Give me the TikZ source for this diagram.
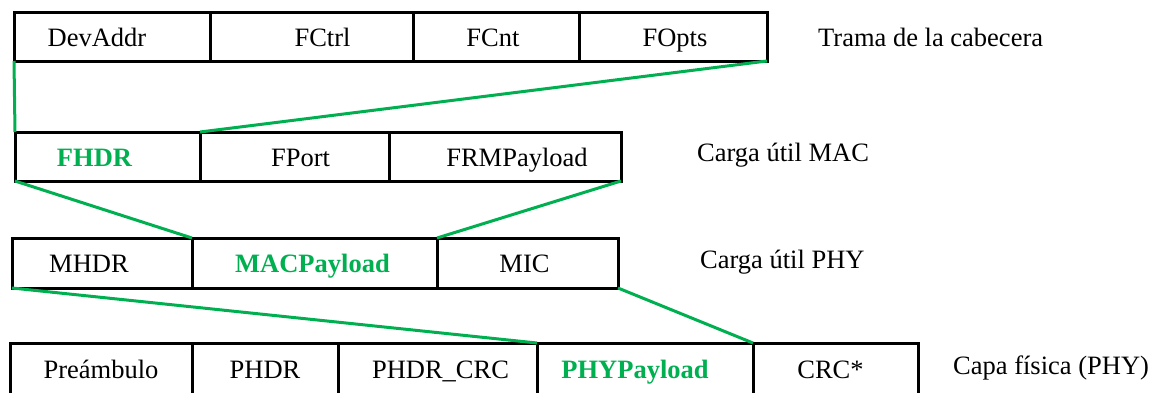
\documentclass[tikz,border=0pt]{standalone}
\usepackage{fontspec}
\setmainfont{Liberation Serif}
\definecolor{lgreen}{RGB}{0,176,80}
\tikzset{
  every node/.style={font=\fontsize{26.5}{30}\selectfont},
  cell/.style={draw=black, line width=3pt, rectangle, outer sep=0pt, inner sep=0pt},
  every label/.style={inner sep=0pt, text height=19pt, text depth=0pt},
  hl/.style={font=\fontsize{26.5}{30}\selectfont\bfseries, text=lgreen},
  link/.style={draw=lgreen, line width=3pt},
  side/.style={anchor=west, inner sep=0pt},
}
% \fcell{name}{x1}{x2}{y1}{y2}{text shift}{label options}{text}
\newcommand{\fcell}[8]{%
  \node[cell, minimum width={#3-#2}, minimum height={#5-#4},
        label={[#7, xshift=#6]center:#8}]
    (#1) at ({(#2+#3)/2},{(#4+#5)/2}) {};}
\begin{document}
\begin{tikzpicture}[x=1pt, y=-1pt]
\useasboundingbox (0,0) rectangle (1165,392);
% Frame header
\fcell{devaddr}{14}{210}{12}{61}{-15pt}{}{DevAddr}
\fcell{fctrl}{210}{413}{12}{61}{11pt}{}{FCtrl}
\fcell{fcnt}{413}{579}{12}{61}{-3pt}{}{FCnt}
\fcell{fopts}{579}{767}{12}{61}{2pt}{}{FOpts}
% MAC payload
\fcell{fhdr}{15}{200}{132}{181}{-13pt}{hl}{FHDR}
\fcell{fport}{200}{389}{132}{181}{6pt}{}{FPort}
\fcell{frm}{389}{621}{132}{181}{12pt}{}{FRMPayload}
% PHY payload
\fcell{mhdr}{12}{192}{238}{288}{-13pt}{}{MHDR}
\fcell{macp}{192}{437}{238}{288}{-2pt}{hl}{MACPayload}
\fcell{mic}{437}{618}{238}{288}{-3pt}{}{MIC}
% Physical layer
\fcell{pre}{10}{192}{343}{395}{0pt}{}{Preámbulo}
\fcell{phdr}{192}{338}{343}{395}{0pt}{}{PHDR}
\fcell{phdrcrc}{338}{537}{343}{395}{3pt}{}{PHDR\_CRC}
\fcell{phyp}{537}{753}{343}{395}{-10pt}{hl}{PHYPayload}
\fcell{crc}{753}{918}{343}{395}{-5pt}{}{CRC*}
% Layer names
\node[side] (t1) at (818,37) {Trama de la cabecera};
\node[side] (t2) at (697,155) {Carga útil MAC};
\node[side] (t3) at (700,262) {Carga útil PHY};
\node[side] (t4) at (953,368) {Capa física (PHY)};
% Expansion lines
\draw[link] (devaddr.south west) -- (fhdr.north west);
\draw[link] (fopts.south east) -- (fhdr.north east);
\draw[link] (fhdr.south west) -- (macp.north west);
\draw[link] (frm.south east) -- (macp.north east);
\draw[link] (mhdr.south west) -- (phyp.north west);
\draw[link] (mic.south east) -- (phyp.north east);
\end{tikzpicture}
\end{document}
